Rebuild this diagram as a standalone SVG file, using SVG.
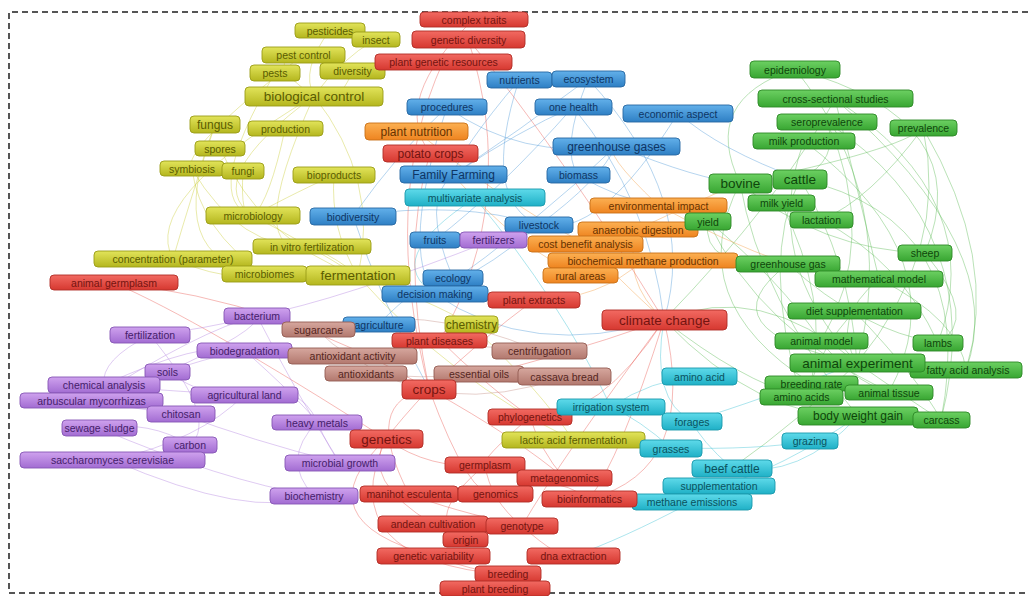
<svg xmlns="http://www.w3.org/2000/svg" width="1028" height="596" viewBox="0 0 1028 596">
<defs>
<linearGradient id="gy" x1="0" y1="0" x2="0" y2="1"><stop offset="0" stop-color="#e2e45a"/><stop offset="1" stop-color="#b4b61e"/></linearGradient>
<linearGradient id="gr" x1="0" y1="0" x2="0" y2="1"><stop offset="0" stop-color="#f26a62"/><stop offset="1" stop-color="#d63830"/></linearGradient>
<linearGradient id="gb" x1="0" y1="0" x2="0" y2="1"><stop offset="0" stop-color="#62b0ea"/><stop offset="1" stop-color="#2e7fc4"/></linearGradient>
<linearGradient id="gc" x1="0" y1="0" x2="0" y2="1"><stop offset="0" stop-color="#5edaea"/><stop offset="1" stop-color="#1fb0c6"/></linearGradient>
<linearGradient id="go" x1="0" y1="0" x2="0" y2="1"><stop offset="0" stop-color="#fcb052"/><stop offset="1" stop-color="#ee8420"/></linearGradient>
<linearGradient id="gg" x1="0" y1="0" x2="0" y2="1"><stop offset="0" stop-color="#6cd062"/><stop offset="1" stop-color="#38a632"/></linearGradient>
<linearGradient id="gp" x1="0" y1="0" x2="0" y2="1"><stop offset="0" stop-color="#cfa2ee"/><stop offset="1" stop-color="#a26cd2"/></linearGradient>
<linearGradient id="gw" x1="0" y1="0" x2="0" y2="1"><stop offset="0" stop-color="#d6a79e"/><stop offset="1" stop-color="#b2786e"/></linearGradient>
</defs>
<style>
text{font-family:"Liberation Sans",Arial,sans-serif;font-size:10.5px;text-anchor:middle;dominant-baseline:central}
.M text{font-size:12px}
.L text{font-size:13.5px}
rect{rx:4;ry:4;stroke-width:0.9}
.y rect{fill:url(#gy);stroke:#9a9c16}.y text{fill:#5a5c00}
.r rect{fill:url(#gr);stroke:#b02c26}.r text{fill:#741410}
.b rect{fill:url(#gb);stroke:#2768a2}.b text{fill:#0e3564}
.c rect{fill:url(#gc);stroke:#1a98ac}.c text{fill:#0a525e}
.o rect{fill:url(#go);stroke:#c87016}.o text{fill:#663200}
.g rect{fill:url(#gg);stroke:#2c8826}.g text{fill:#0e460b}
.p rect{fill:url(#gp);stroke:#8656b4}.p text{fill:#45206a}
.w rect{fill:url(#gw);stroke:#935c52}.w text{fill:#55261e}
#edges path{fill:none;stroke-width:0.9;stroke-opacity:0.45}
.ey{stroke:#c8ca30}.er{stroke:#e8554d}.eb{stroke:#4a98d8}.ec{stroke:#35bfd2}.eo{stroke:#f29a3c}.eg{stroke:#55b84d}.ep{stroke:#b07ee0}.ew{stroke:#c08a80}
</style>
<rect x="0" y="0" width="1028" height="596" fill="#ffffff" style="rx:0;stroke:none"/>
<path d="M1028 12 H9 V593 H1028" fill="none" stroke="#555" stroke-width="2" stroke-dasharray="6 4"/>
<g id="edges">
<path class="eg" d="M795 69 Q900 200 857 363"/>
<path class="eg" d="M835 99 Q990 200 938 343"/>
<path class="eg" d="M923 128 Q1000 260 966 370"/>
<path class="eg" d="M923 128 Q950 250 857 363"/>
<path class="eg" d="M827 122 Q880 240 821 341"/>
<path class="eg" d="M804 141 Q760 260 857 363"/>
<path class="eg" d="M740 183 Q900 150 923 128"/>
<path class="eg" d="M800 179 Q980 220 941 420"/>
<path class="eg" d="M800 179 Q850 260 857 363"/>
<path class="eg" d="M740 183 Q760 300 858 416"/>
<path class="eg" d="M788 264 Q700 330 857 363"/>
<path class="eg" d="M879 279 Q960 320 966 370"/>
<path class="eg" d="M854 311 Q920 380 941 420"/>
<path class="eg" d="M925 253 Q980 320 938 343"/>
<path class="eg" d="M795 69 Q980 120 925 253"/>
<path class="eg" d="M835 99 Q860 200 879 279"/>
<path class="eg" d="M708 221 Q780 280 821 341"/>
<path class="eg" d="M781 203 Q830 300 811 383"/>
<path class="eg" d="M664 320 Q760 280 857 363"/>
<path class="eg" d="M664 320 Q780 200 835 99"/>
<path class="eg" d="M740 183 Q700 100 795 69"/>
<path class="eg" d="M800 179 Q840 160 827 122"/>
<path class="eg" d="M821 220 Q900 260 938 343"/>
<path class="eg" d="M732 468 Q800 420 857 363"/>
<path class="eg" d="M835 99 Q1010 250 966 370"/>
<path class="eg" d="M923 128 Q870 200 821 220"/>
<path class="eg" d="M664 320 Q740 380 801 397"/>
<path class="eg" d="M708 221 Q760 330 889 392"/>
<path class="eg" d="M827 122 Q990 230 941 420"/>
<path class="eg" d="M804 141 Q960 260 889 392"/>
<path class="eg" d="M740 183 Q820 250 925 253"/>
<path class="eg" d="M788 264 Q860 330 938 343"/>
<path class="eg" d="M800 179 Q760 260 801 397"/>
<path class="eg" d="M857 363 Q910 400 941 420"/>
<path class="eg" d="M821 341 Q850 380 889 392"/>
<path class="eg" d="M854 311 Q820 350 811 383"/>
<path class="eg" d="M879 279 Q830 320 857 363"/>
<path class="eg" d="M664 320 Q760 420 858 416"/>
<path class="eg" d="M708 221 Q700 270 788 264"/>
<path class="eg" d="M740 183 Q680 300 811 383"/>
<path class="ec" d="M611 407 Q650 380 699 376"/>
<path class="ec" d="M692 421 Q760 400 857 363"/>
<path class="ec" d="M671 448 Q760 450 810 441"/>
<path class="ec" d="M732 468 Q800 480 858 416"/>
<path class="ec" d="M692 502 Q620 540 573 556"/>
<path class="ec" d="M475 198 Q560 300 611 407"/>
<path class="ec" d="M664 320 Q650 400 692 421"/>
<path class="ec" d="M719 486 Q780 470 858 416"/>
<path class="ec" d="M671 448 Q640 420 611 407"/>
<path class="ec" d="M732 468 Q700 440 692 421"/>
<path class="ec" d="M475 198 Q380 260 435 294"/>
<path class="eo" d="M658 205 Q720 240 788 264"/>
<path class="eo" d="M638 229 Q700 200 740 183"/>
<path class="eo" d="M585 244 Q640 300 664 320"/>
<path class="eo" d="M643 260 Q720 250 788 264"/>
<path class="eo" d="M580 275 Q520 250 453 175"/>
<path class="eo" d="M416 131 Q500 200 585 244"/>
<path class="eo" d="M658 205 Q600 150 616 146"/>
<path class="eo" d="M643 260 Q600 300 534 300"/>
<path class="eo" d="M638 229 Q620 280 664 320"/>
<path class="eb" d="M453 175 Q520 130 573 107"/>
<path class="eb" d="M616 146 Q700 180 740 183"/>
<path class="eb" d="M353 216 Q400 150 447 107"/>
<path class="eb" d="M435 294 Q500 260 539 225"/>
<path class="eb" d="M453 278 Q420 200 453 175"/>
<path class="eb" d="M678 113 Q720 150 800 179"/>
<path class="eb" d="M588 79 Q520 130 453 175"/>
<path class="eb" d="M578 175 Q620 200 658 205"/>
<path class="eb" d="M447 107 Q400 250 435 294"/>
<path class="eb" d="M539 225 Q600 180 616 146"/>
<path class="eb" d="M379 324 Q420 280 453 278"/>
<path class="eb" d="M573 107 Q650 200 664 320"/>
<path class="eb" d="M353 216 Q380 300 429 389"/>
<path class="eb" d="M519 80 Q480 200 539 225"/>
<path class="eb" d="M616 146 Q540 220 435 294"/>
<path class="eb" d="M588 79 Q560 150 578 175"/>
<path class="eb" d="M447 107 Q520 160 616 146"/>
<path class="eb" d="M519 80 Q460 150 453 175"/>
<path class="eb" d="M678 113 Q600 240 539 225"/>
<path class="eb" d="M573 107 Q500 190 435 240"/>
<path class="eb" d="M353 216 Q460 200 539 225"/>
<path class="eb" d="M435 294 Q530 360 664 320"/>
<path class="eb" d="M588 79 Q700 200 664 320"/>
<path class="er" d="M664 320 Q550 360 429 389"/>
<path class="er" d="M664 320 Q600 420 530 417"/>
<path class="er" d="M429 389 Q400 420 386 439"/>
<path class="er" d="M386 439 Q430 470 485 465"/>
<path class="er" d="M485 465 Q490 500 522 526"/>
<path class="er" d="M495 494 Q550 470 589 499"/>
<path class="er" d="M386 439 Q360 480 433 524"/>
<path class="er" d="M433 556 Q470 570 508 575"/>
<path class="er" d="M522 526 Q560 560 573 556"/>
<path class="er" d="M468 39 Q520 200 440 340"/>
<path class="er" d="M430 153 Q400 250 429 389"/>
<path class="er" d="M440 340 Q480 380 530 417"/>
<path class="er" d="M534 300 Q480 340 429 389"/>
<path class="er" d="M114 283 Q280 300 429 389"/>
<path class="er" d="M409 494 Q450 510 522 526"/>
<path class="er" d="M564 478 Q540 450 530 417"/>
<path class="er" d="M589 499 Q620 460 664 320"/>
<path class="er" d="M386 439 Q300 520 433 556"/>
<path class="er" d="M429 389 Q470 500 495 494"/>
<path class="er" d="M468 39 Q560 150 664 320"/>
<path class="er" d="M443 62 Q380 200 429 389"/>
<path class="er" d="M664 320 Q560 460 522 526"/>
<path class="er" d="M386 439 Q330 560 508 575"/>
<path class="er" d="M429 389 Q520 440 564 478"/>
<path class="er" d="M429 389 Q360 400 409 494"/>
<path class="er" d="M485 465 Q420 520 465 539"/>
<path class="er" d="M530 417 Q480 460 485 465"/>
<path class="er" d="M664 320 Q700 470 589 499"/>
<path class="er" d="M474 19 Q390 100 430 153"/>
<path class="er" d="M114 283 Q200 320 386 439"/>
<path class="ey" d="M314 96 Q200 180 253 216"/>
<path class="ey" d="M314 96 Q260 60 303 55"/>
<path class="ey" d="M215 125 Q190 200 173 259"/>
<path class="ey" d="M192 169 Q200 230 264 274"/>
<path class="ey" d="M334 175 Q330 230 358 276"/>
<path class="ey" d="M312 247 Q340 260 358 276"/>
<path class="ey" d="M314 96 Q380 180 358 276"/>
<path class="ey" d="M253 216 Q300 240 358 276"/>
<path class="ey" d="M353 71 Q330 120 314 96"/>
<path class="ey" d="M376 39 Q340 60 314 96"/>
<path class="ey" d="M330 30 Q300 70 314 96"/>
<path class="ey" d="M243 171 Q240 220 253 216"/>
<path class="ey" d="M173 259 Q240 290 358 276"/>
<path class="ey" d="M358 276 Q430 300 471 325"/>
<path class="ey" d="M471 325 Q540 390 573 440"/>
<path class="ey" d="M314 96 Q140 200 173 259"/>
<path class="ey" d="M285 129 Q270 200 253 216"/>
<path class="ey" d="M358 276 Q450 380 573 440"/>
<path class="ey" d="M215 125 Q160 260 264 274"/>
<path class="ey" d="M303 55 Q180 150 192 169"/>
<path class="ey" d="M275 73 Q200 200 253 216"/>
<path class="ey" d="M314 96 Q240 260 312 247"/>
<path class="ey" d="M192 169 Q240 250 312 247"/>
<path class="ey" d="M334 175 Q280 200 253 216"/>
<path class="ey" d="M220 148 Q260 240 358 276"/>
<path class="ep" d="M257 316 Q200 330 150 335"/>
<path class="ep" d="M244 350 Q200 360 167 372"/>
<path class="ep" d="M104 385 Q150 390 244 395"/>
<path class="ep" d="M91 400 Q140 410 181 414"/>
<path class="ep" d="M99 428 Q150 420 190 445"/>
<path class="ep" d="M112 460 Q200 440 244 395"/>
<path class="ep" d="M317 422 Q330 450 340 463"/>
<path class="ep" d="M314 496 Q280 460 317 422"/>
<path class="ep" d="M244 350 Q300 400 317 422"/>
<path class="ep" d="M150 335 Q100 360 104 385"/>
<path class="ep" d="M257 316 Q340 300 493 240"/>
<path class="ep" d="M112 460 Q250 520 314 496"/>
<path class="ep" d="M167 372 Q210 400 244 395"/>
<path class="ep" d="M181 414 Q250 440 340 463"/>
<path class="ep" d="M244 395 Q300 380 317 422"/>
<path class="ep" d="M91 400 Q200 330 257 316"/>
<path class="ep" d="M150 335 Q220 420 190 445"/>
<path class="ep" d="M257 316 Q300 400 340 463"/>
<path class="ep" d="M104 385 Q200 340 244 350"/>
<path class="ep" d="M99 428 Q220 480 314 496"/>
<path class="ep" d="M167 372 Q260 330 257 316"/>
<path class="ew" d="M318 329 Q330 345 352 356"/>
<path class="ew" d="M352 356 Q450 340 539 351"/>
<path class="ew" d="M366 373 Q420 380 479 374"/>
<path class="ew" d="M479 374 Q520 390 564 377"/>
<path class="ew" d="M318 329 Q420 300 539 351"/>
<path class="ew" d="M352 356 Q440 420 564 377"/>
</g>
<g id="n-pesticides" class="y"><rect x="295" y="23" width="70" height="15"/><text x="330" y="30.5">pesticides</text></g>
<g id="n-insect" class="y"><rect x="352" y="32" width="48" height="15"/><text x="376" y="39.5">insect</text></g>
<g id="n-pest-control" class="y"><rect x="262" y="47" width="83" height="16"/><text x="303.5" y="55">pest control</text></g>
<g id="n-pests" class="y"><rect x="250" y="65" width="50" height="16"/><text x="275" y="73">pests</text></g>
<g id="n-diversity" class="y"><rect x="320" y="63" width="65" height="16"/><text x="352.5" y="71">diversity</text></g>
<g id="n-biological-control" class="y L"><rect x="245" y="87" width="138" height="19"/><text x="314" y="96.5">biological control</text></g>
<g id="n-fungus" class="y M"><rect x="190" y="116" width="50" height="17"/><text x="215" y="124.5">fungus</text></g>
<g id="n-production" class="y"><rect x="248" y="121" width="75" height="15"/><text x="285.5" y="128.5">production</text></g>
<g id="n-spores" class="y"><rect x="195" y="141" width="50" height="15"/><text x="220" y="148.5">spores</text></g>
<g id="n-symbiosis" class="y"><rect x="160" y="161" width="64" height="15"/><text x="192" y="168.5">symbiosis</text></g>
<g id="n-fungi" class="y"><rect x="222" y="163" width="42" height="16"/><text x="243" y="171">fungi</text></g>
<g id="n-bioproducts" class="y"><rect x="293" y="167" width="82" height="16"/><text x="334" y="175">bioproducts</text></g>
<g id="n-microbiology" class="y"><rect x="206" y="207" width="94" height="17"/><text x="253" y="215.5">microbiology</text></g>
<g id="n-in-vitro-fertilization" class="y"><rect x="253" y="239" width="118" height="15"/><text x="312" y="246.5">in vitro fertilization</text></g>
<g id="n-concentration" class="y"><rect x="94" y="251" width="158" height="16"/><text x="173" y="259">concentration (parameter)</text></g>
<g id="n-microbiomes" class="y"><rect x="222" y="266" width="85" height="16"/><text x="264.5" y="274">microbiomes</text></g>
<g id="n-fermentation" class="y L"><rect x="306" y="266" width="104" height="19"/><text x="358" y="275.5">fermentation</text></g>
<g id="n-complex-traits" class="r"><rect x="420" y="12" width="108" height="15"/><text x="474" y="19.5">complex traits</text></g>
<g id="n-genetic-diversity" class="r"><rect x="412" y="31" width="113" height="17"/><text x="468.5" y="39.5">genetic diversity</text></g>
<g id="n-plant-genetic-resources" class="r"><rect x="375" y="54" width="137" height="16"/><text x="443.5" y="62">plant genetic resources</text></g>
<g id="n-nutrients" class="b"><rect x="487" y="72" width="65" height="16"/><text x="519.5" y="80">nutrients</text></g>
<g id="n-ecosystem" class="b"><rect x="552" y="71" width="73" height="16"/><text x="588.5" y="79">ecosystem</text></g>
<g id="n-procedures" class="b"><rect x="407" y="99" width="80" height="16"/><text x="447" y="107">procedures</text></g>
<g id="n-one-health" class="b"><rect x="535" y="99" width="77" height="16"/><text x="573.5" y="107">one health</text></g>
<g id="n-economic-aspect" class="b"><rect x="623" y="105" width="110" height="17"/><text x="678" y="113.5">economic aspect</text></g>
<g id="n-plant-nutrition" class="o M"><rect x="365" y="123" width="103" height="17"/><text x="416.5" y="131.5">plant nutrition</text></g>
<g id="n-potato-crops" class="r M"><rect x="383" y="145" width="95" height="17"/><text x="430.5" y="153.5">potato crops</text></g>
<g id="n-greenhouse-gases" class="b M"><rect x="553" y="138" width="127" height="17"/><text x="616.5" y="146.5">greenhouse gases</text></g>
<g id="n-family-farming" class="b M"><rect x="400" y="166" width="107" height="17"/><text x="453.5" y="174.5">Family Farming</text></g>
<g id="n-biomass" class="b"><rect x="547" y="167" width="63" height="16"/><text x="578.5" y="175">biomass</text></g>
<g id="n-multivariate-analysis" class="c"><rect x="405" y="189" width="140" height="17"/><text x="475" y="197.5">multivariate analysis</text></g>
<g id="n-biodiversity" class="b"><rect x="310" y="208" width="86" height="17"/><text x="353" y="216.5">biodiversity</text></g>
<g id="n-environmental-impact" class="o"><rect x="590" y="198" width="137" height="15"/><text x="658.5" y="205.5">environmental impact</text></g>
<g id="n-livestock" class="b"><rect x="505" y="217" width="68" height="16"/><text x="539" y="225">livestock</text></g>
<g id="n-anaerobic-digestion" class="o"><rect x="578" y="222" width="120" height="15"/><text x="638" y="229.5">anaerobic digestion</text></g>
<g id="n-fruits" class="b"><rect x="410" y="232" width="50" height="16"/><text x="435" y="240">fruits</text></g>
<g id="n-fertilizers" class="p"><rect x="460" y="232" width="67" height="16"/><text x="493.5" y="240">fertilizers</text></g>
<g id="n-cost-benefit-analysis" class="o"><rect x="528" y="236" width="115" height="16"/><text x="585.5" y="244">cost benefit analysis</text></g>
<g id="n-biochemical-methane-production" class="o"><rect x="548" y="253" width="190" height="15"/><text x="643" y="260.5">biochemical methane production</text></g>
<g id="n-rural-areas" class="o"><rect x="543" y="268" width="75" height="15"/><text x="580.5" y="275.5">rural areas</text></g>
<g id="n-ecology" class="b"><rect x="423" y="270" width="60" height="16"/><text x="453" y="278">ecology</text></g>
<g id="n-animal-germplasm" class="r"><rect x="50" y="275" width="128" height="15"/><text x="114" y="282.5">animal germplasm</text></g>
<g id="n-decision-making" class="b"><rect x="382" y="286" width="106" height="16"/><text x="435" y="294">decision making</text></g>
<g id="n-plant-extracts" class="r"><rect x="488" y="292" width="92" height="16"/><text x="534" y="300">plant extracts</text></g>
<g id="n-climate-change" class="r L"><rect x="602" y="310" width="125" height="20"/><text x="664.5" y="320">climate change</text></g>
<g id="n-agriculture" class="b"><rect x="343" y="317" width="72" height="15"/><text x="379" y="324.5">agriculture</text></g>
<g id="n-chemistry" class="y M"><rect x="445" y="316" width="53" height="17"/><text x="471.5" y="324.5">chemistry</text></g>
<g id="n-bacterium" class="p"><rect x="224" y="308" width="66" height="16"/><text x="257" y="316">bacterium</text></g>
<g id="n-sugarcane" class="w"><rect x="282" y="322" width="73" height="15"/><text x="318.5" y="329.5">sugarcane</text></g>
<g id="n-fertilization" class="p"><rect x="110" y="327" width="80" height="16"/><text x="150" y="335">fertilization</text></g>
<g id="n-plant-diseases" class="r"><rect x="392" y="333" width="95" height="15"/><text x="439.5" y="340.5">plant diseases</text></g>
<g id="n-biodegradation" class="p"><rect x="197" y="343" width="95" height="15"/><text x="244.5" y="350.5">biodegradation</text></g>
<g id="n-antioxidant-activity" class="w"><rect x="288" y="348" width="129" height="16"/><text x="352.5" y="356">antioxidant activity</text></g>
<g id="n-centrifugation" class="w"><rect x="492" y="343" width="95" height="16"/><text x="539.5" y="351">centrifugation</text></g>
<g id="n-antioxidants" class="w"><rect x="325" y="366" width="82" height="15"/><text x="366" y="373.5">antioxidants</text></g>
<g id="n-essential-oils" class="w"><rect x="434" y="366" width="90" height="16"/><text x="479" y="374">essential oils</text></g>
<g id="n-cassava-bread" class="w"><rect x="518" y="368" width="93" height="17"/><text x="564.5" y="376.5">cassava bread</text></g>
<g id="n-soils" class="p"><rect x="145" y="364" width="45" height="16"/><text x="167.5" y="372">soils</text></g>
<g id="n-chemical-analysis" class="p"><rect x="48" y="377" width="112" height="16"/><text x="104" y="385">chemical analysis</text></g>
<g id="n-crops" class="r L"><rect x="402" y="380" width="54" height="19"/><text x="429" y="389.5">crops</text></g>
<g id="n-agricultural-land" class="p"><rect x="191" y="387" width="107" height="16"/><text x="244.5" y="395">agricultural land</text></g>
<g id="n-arbuscular-mycorrhizas" class="p"><rect x="20" y="393" width="143" height="15"/><text x="91.5" y="400.5">arbuscular mycorrhizas</text></g>
<g id="n-chitosan" class="p"><rect x="147" y="406" width="68" height="16"/><text x="181" y="414">chitosan</text></g>
<g id="n-amino-acid" class="c"><rect x="662" y="368" width="75" height="17"/><text x="699.5" y="376.5">amino acid</text></g>
<g id="n-phylogenetics" class="r"><rect x="488" y="409" width="84" height="16"/><text x="530" y="417">phylogenetics</text></g>
<g id="n-irrigation-system" class="c"><rect x="557" y="399" width="108" height="16"/><text x="611" y="407">irrigation system</text></g>
<g id="n-forages" class="c"><rect x="662" y="413" width="60" height="17"/><text x="692" y="421.5">forages</text></g>
<g id="n-heavy-metals" class="p"><rect x="272" y="415" width="90" height="15"/><text x="317" y="422.5">heavy metals</text></g>
<g id="n-sewage-sludge" class="p"><rect x="62" y="420" width="75" height="16"/><text x="99.5" y="428">sewage sludge</text></g>
<g id="n-genetics" class="r L"><rect x="350" y="430" width="73" height="18"/><text x="386.5" y="439">genetics</text></g>
<g id="n-lactic-acid-fermentation" class="y"><rect x="502" y="432" width="143" height="16"/><text x="573.5" y="440">lactic acid fermentation</text></g>
<g id="n-grasses" class="c"><rect x="640" y="440" width="62" height="17"/><text x="671" y="448.5">grasses</text></g>
<g id="n-carbon" class="p"><rect x="163" y="437" width="54" height="16"/><text x="190" y="445">carbon</text></g>
<g id="n-saccharomyces-cerevisiae" class="p"><rect x="20" y="452" width="185" height="16"/><text x="112.5" y="460">saccharomyces cerevisiae</text></g>
<g id="n-microbial-growth" class="p"><rect x="285" y="455" width="110" height="16"/><text x="340" y="463">microbial growth</text></g>
<g id="n-germplasm" class="r"><rect x="445" y="457" width="80" height="16"/><text x="485" y="465">germplasm</text></g>
<g id="n-metagenomics" class="r"><rect x="517" y="470" width="95" height="16"/><text x="564.5" y="478">metagenomics</text></g>
<g id="n-beef-cattle" class="c M"><rect x="692" y="460" width="80" height="17"/><text x="732" y="468.5">beef cattle</text></g>
<g id="n-supplementation" class="c"><rect x="663" y="478" width="112" height="16"/><text x="719" y="486">supplementation</text></g>
<g id="n-methane-emissions" class="c"><rect x="632" y="494" width="120" height="16"/><text x="692" y="502">methane emissions</text></g>
<g id="n-biochemistry" class="p"><rect x="270" y="488" width="88" height="16"/><text x="314" y="496">biochemistry</text></g>
<g id="n-manihot-esculenta" class="r"><rect x="360" y="486" width="98" height="16"/><text x="409" y="494">manihot esculenta</text></g>
<g id="n-genomics" class="r"><rect x="458" y="486" width="75" height="16"/><text x="495.5" y="494">genomics</text></g>
<g id="n-bioinformatics" class="r"><rect x="542" y="491" width="95" height="16"/><text x="589.5" y="499">bioinformatics</text></g>
<g id="n-andean-cultivation" class="r"><rect x="378" y="516" width="110" height="16"/><text x="433" y="524">andean cultivation</text></g>
<g id="n-genotype" class="r"><rect x="486" y="518" width="72" height="16"/><text x="522" y="526">genotype</text></g>
<g id="n-origin" class="r"><rect x="443" y="532" width="45" height="15"/><text x="465.5" y="539.5">origin</text></g>
<g id="n-genetic-variability" class="r"><rect x="377" y="548" width="113" height="16"/><text x="433.5" y="556">genetic variability</text></g>
<g id="n-dna-extraction" class="r"><rect x="527" y="548" width="93" height="16"/><text x="573.5" y="556">dna extraction</text></g>
<g id="n-breeding" class="r"><rect x="475" y="566" width="66" height="16"/><text x="508" y="574">breeding</text></g>
<g id="n-plant-breeding" class="r"><rect x="440" y="581" width="110" height="15"/><text x="495" y="588.5">plant breeding</text></g>
<g id="n-epidemiology" class="g"><rect x="750" y="61" width="90" height="17"/><text x="795" y="69.5">epidemiology</text></g>
<g id="n-cross-sectional-studies" class="g"><rect x="758" y="90" width="155" height="17"/><text x="835.5" y="98.5">cross-sectional studies</text></g>
<g id="n-seroprevalence" class="g"><rect x="777" y="114" width="100" height="16"/><text x="827" y="122">seroprevalence</text></g>
<g id="n-prevalence" class="g"><rect x="890" y="120" width="67" height="16"/><text x="923.5" y="128">prevalence</text></g>
<g id="n-milk-production" class="g"><rect x="753" y="133" width="102" height="16"/><text x="804" y="141">milk production</text></g>
<g id="n-bovine" class="g L"><rect x="709" y="174" width="63" height="19"/><text x="740.5" y="183.5">bovine</text></g>
<g id="n-cattle" class="g L"><rect x="773" y="170" width="54" height="19"/><text x="800" y="179.5">cattle</text></g>
<g id="n-milk-yield" class="g"><rect x="748" y="195" width="67" height="16"/><text x="781.5" y="203">milk yield</text></g>
<g id="n-lactation" class="g"><rect x="790" y="212" width="63" height="16"/><text x="821.5" y="220">lactation</text></g>
<g id="n-yield" class="g"><rect x="685" y="213" width="46" height="17"/><text x="708" y="221.5">yield</text></g>
<g id="n-sheep" class="g"><rect x="898" y="245" width="54" height="16"/><text x="925" y="253">sheep</text></g>
<g id="n-greenhouse-gas" class="g"><rect x="736" y="256" width="104" height="16"/><text x="788" y="264">greenhouse gas</text></g>
<g id="n-mathematical-model" class="g"><rect x="815" y="271" width="128" height="16"/><text x="879" y="279">mathematical model</text></g>
<g id="n-diet-supplementation" class="g"><rect x="788" y="303" width="133" height="16"/><text x="854.5" y="311">diet supplementation</text></g>
<g id="n-animal-model" class="g"><rect x="775" y="333" width="93" height="16"/><text x="821.5" y="341">animal model</text></g>
<g id="n-lambs" class="g"><rect x="913" y="335" width="50" height="16"/><text x="938" y="343">lambs</text></g>
<g id="n-fatty-acid-analysis" class="g"><rect x="910" y="362" width="112" height="16"/><text x="968" y="370">fatty acid analysis</text></g>
<g id="n-animal-experiment" class="g L"><rect x="790" y="354" width="135" height="18"/><text x="857.5" y="363">animal experiment</text></g>
<g id="n-breeding-rate" class="g"><rect x="765" y="376" width="93" height="15"/><text x="811.5" y="383.5">breeding rate</text></g>
<g id="n-animal-tissue" class="g"><rect x="845" y="385" width="88" height="15"/><text x="889" y="392.5">animal tissue</text></g>
<g id="n-amino-acids" class="g"><rect x="760" y="389" width="83" height="16"/><text x="801.5" y="397">amino acids</text></g>
<g id="n-body-weight-gain" class="g M"><rect x="798" y="407" width="120" height="18"/><text x="858" y="416">body weight gain</text></g>
<g id="n-carcass" class="g"><rect x="913" y="412" width="57" height="16"/><text x="941.5" y="420">carcass</text></g>
<g id="n-grazing" class="c"><rect x="782" y="433" width="56" height="16"/><text x="810" y="441">grazing</text></g>
</svg>
